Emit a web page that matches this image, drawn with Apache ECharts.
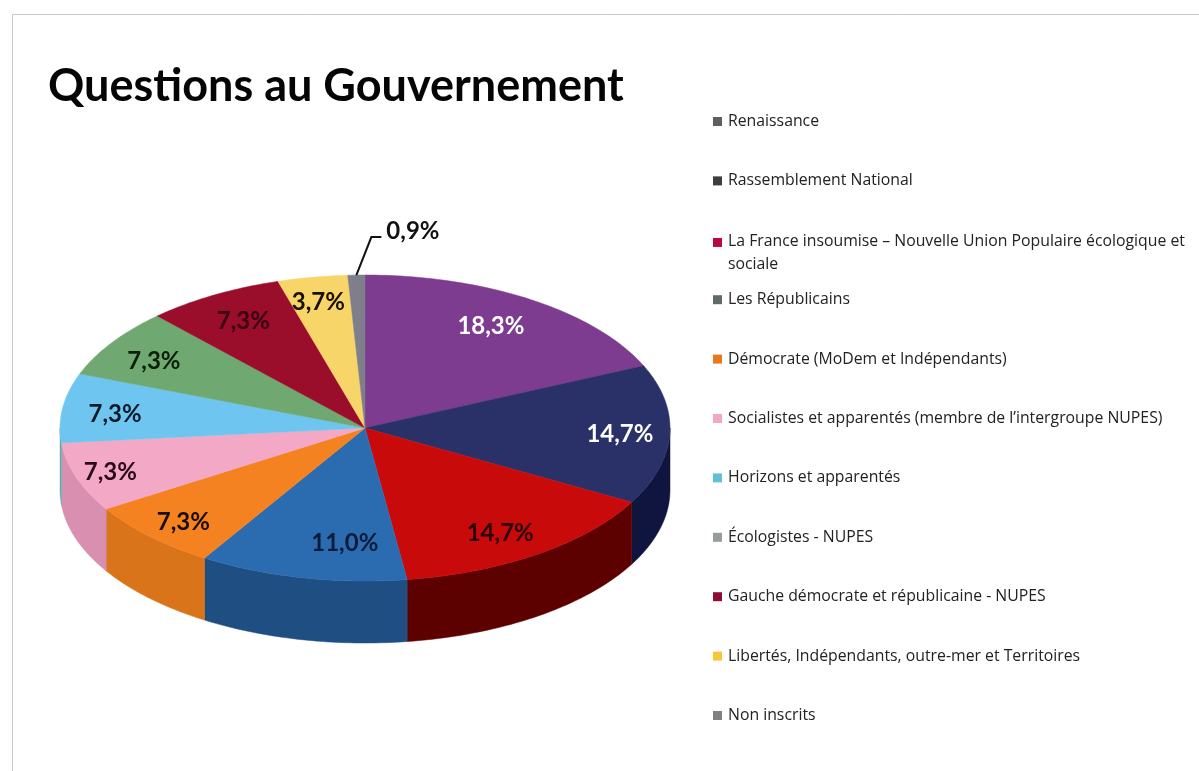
<!DOCTYPE html>
<html><head><meta charset="utf-8">
<style>html,body{margin:0;padding:0;background:#fff}#c{width:1199px;height:771px;filter:blur(0.4px)}</style>
<script src="https://cdn.jsdelivr.net/npm/echarts@6/dist/echarts.min.js"></script>
</head><body><div id="c"></div>
<script>
const parties = ['Renaissance','Rassemblement National','La France insoumise – Nouvelle Union Populaire écologique et\nsociale','Les Républicains','Démocrate (MoDem et Indépendants)','Socialistes et apparentés (membre de l’intergroupe NUPES)','Horizons et apparentés','Écologistes - NUPES','Gauche démocrate et républicaine - NUPES','Libertés, Indépendants, outre-mer et Territoires','Non inscrits'];
const shares = [18.3,14.7,14.7,11.0,7.3,7.3,7.3,7.3,7.3,3.7,0.9];
const shareLabels = ['18,3%','14,7%','14,7%','11,0%','7,3%','7,3%','7,3%','7,3%','7,3%','3,7%','0,9%'];
const topColors = ['#7d3c8f','#2a3168','#c80a0a','#2b6cb0','#f58220','#f3a9c6','#6ec6f0','#6fa870','#9a0d2b','#f8d568','#7f7f8c'];
const wallColors = ['#5a2a68','#10153f','#5c0000','#1f4e82','#d9741a','#d98fb0','#5fb0b0','#5a8a5c','#700a20','#c8a850','#666670'];
const legendColors = ['#5f5f5f','#3b3f3f','#b5093f','#5f6b66','#e8771f','#f0a8c4','#62c0d8','#969c99','#8b0f33','#f5c83c','#808080'];
const labelColors = ['#ffffff','#ffffff','#2a0505','#0a1a3a','#1a0d00','#2a0a1a','#0a1a2a','#0a200a','#3a0010','#1a1000','#111111'];

const CX=365, CY=428, RX=305, RY=153, DEPTH=62;
const total = shares.reduce((a,b)=>a+b,0);
const LABEL_R = 0.83;
const labelNudge = {0:[-12,5],1:[2,1],2:[-8,1],3:[32,-9],4:[-3,4],5:[-15,3],6:[1,3],7:[-1,4],8:[4,4],9:[-3,-1]};
function pt(deg,dy,k){const t=deg*Math.PI/180;k=k===undefined?1:k;return [CX+RX*k*Math.sin(t),CY-RY*k*Math.cos(t)+(dy||0)];}
function arc(a,b,dy){const n=Math.max(2,Math.ceil(Math.abs(b-a)));const o=[];for(let i=0;i<=n;i++)o.push(pt(a+(b-a)*i/n,dy));return o;}

function renderSlice(i){
  return function(params,api){
    const v=api.value(0);
    let before=0;for(let j=0;j<i;j++)before+=shares[j];
    const a=before/total*360,b=(before+v)/total*360;
    const ch=[];
    const wa=Math.max(a,90),wb=Math.min(b,270);
    if(wb>wa){
      ch.push({type:'polygon',shape:{points:arc(wa,wb,0).concat(arc(wb,wa,DEPTH))},style:{fill:wallColors[i],stroke:wallColors[i],lineWidth:.5},z2:1});
    }
    ch.push({type:'polygon',shape:{points:[[CX,CY]].concat(arc(a,b,0))},style:{fill:topColors[i],stroke:topColors[i],lineWidth:.5},z2:2});
    const mid=(a+b)/2;
    if(v<2){
      const p=pt(mid,0);
      ch.push({type:'polyline',shape:{points:[p,[p[0]+15,p[1]-38],[p[0]+25,p[1]-38]]},style:{fill:null,stroke:'#111',lineWidth:2},z2:3});
      ch.push({type:'text',x:p[0]+30,y:p[1]-44,style:{text:shareLabels[i],fill:labelColors[i],font:'bold 24px Lato',textAlign:'left',textVerticalAlign:'middle'},z2:5});
    }else{
      const p=pt(mid,0,LABEL_R),n=labelNudge[i]||[0,0];
      ch.push({type:'text',x:p[0]+n[0],y:p[1]+n[1],style:{text:shareLabels[i],fill:labelColors[i],font:'bold 24px Lato',textAlign:'center',textVerticalAlign:'middle'},z2:5});
    }
    return {type:'group',children:ch};
  };
}

const LEGEND_TOPS_STEP=59.4, LEGEND_TOP0=110;
const option={
  animation:false,
  backgroundColor:'#ffffff',
  title:{text:'Questions au Gouvernement',left:43,top:59,textStyle:{fontFamily:'Lato',fontSize:45,fontWeight:'bold',color:'#050505'}},
  tooltip:{show:false},
  graphic:[{type:'rect',shape:{x:12.5,y:14.5,width:1400,height:1000},style:{fill:null,stroke:'#c9c9c9',lineWidth:1},silent:true}],
  legend:parties.map((name,i)=>({
    selectedMode:false,left:713,top:LEGEND_TOP0+LEGEND_TOPS_STEP*i+(name.includes('\n')?1:0),
    padding:0,itemGap:0,itemWidth:9,itemHeight:name.includes('\n')?30:9,
    data:[{name,itemStyle:{color:legendColors[i]},icon:name.includes('\n')?'path://M0 0H10V10H0Z M10 33 L10 33':'rect'}],
    textStyle:{fontFamily:'Open Sans',fontSize:15.8,color:'#222',lineHeight:23,padding:[0,0,0,1]}
  })),
  series:parties.map((name,i)=>({
    type:'custom',name,coordinateSystem:'none',silent:true,clip:false,
    itemStyle:{color:legendColors[i]},
    renderItem:renderSlice(i),data:[[shares[i]]]
  }))
};
const chart=echarts.init(document.getElementById('c'),null,{renderer:'canvas'});
chart.setOption(option);
</script></body></html>
